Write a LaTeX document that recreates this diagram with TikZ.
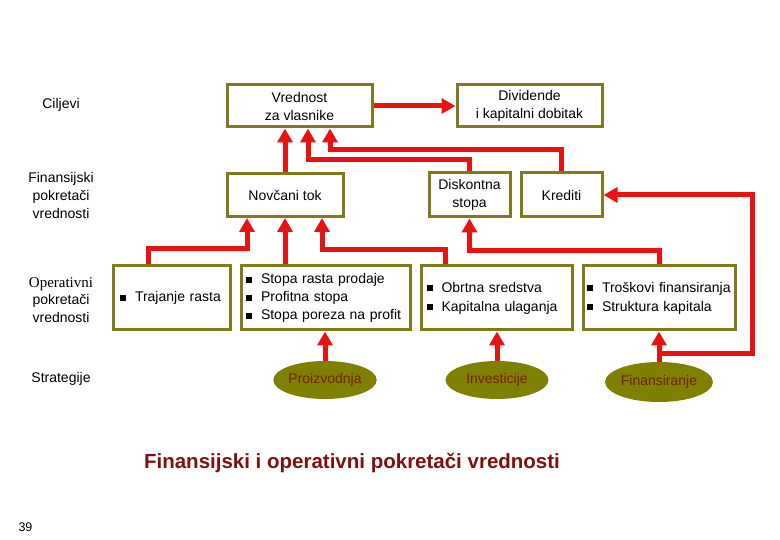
\documentclass[tikz,border=0pt]{standalone}
\usepackage{fontspec}
\setmainfont{Liberation Sans}
\newfontfamily\serifop{Liberation Serif}
\usetikzlibrary{arrows.meta,shapes.geometric}
\definecolor{olivebd}{RGB}{128,122,30}
\definecolor{olivefill}{RGB}{128,128,0}
\definecolor{arrred}{RGB}{232,18,18}
\definecolor{darkred}{RGB}{128,16,16}
\definecolor{ellitext}{RGB}{120,30,10}
\newcommand\sqb{\rule[1pt]{6pt}{6pt}\hspace{9pt}}
\begin{document}
\begin{tikzpicture}[x=1pt,y=-1pt,
  font=\fontsize{14}{18}\selectfont,
  box/.style={draw=olivebd, line width=3pt, fill=white, inner sep=0pt, align=center},
  lbox/.style={box, align=left, minimum height=64pt},
  ell/.style={ellipse, fill=olivefill, inner sep=0pt, minimum width=103pt, minimum height=38pt, text=ellitext},
  arr/.style={draw=arrred, line width=5pt, -{Triangle[width=15pt,length=14pt]}},
  lab/.style={align=center}]
\useasboundingbox (0,0) rectangle (780,540);
% left labels
\node[lab] (l1) at (61,105) {Ciljevi};
\node[lab] (l2) at (61,195) {Finansijski\\pokretači\\vrednosti};
\node[lab, font=\fontsize{14}{17.5}\selectfont] (l3) at (61,300) {{\serifop\fontsize{15}{17.5}\selectfont Operativni}\\pokretači\\vrednosti};
\node[lab] (l4) at (61,379) {Strategije};
% top boxes
\node[box, minimum width=145pt, minimum height=42pt] (v) at (299.5,106) {Vrednost\\za vlasnike};
\node[box, minimum width=145pt, minimum height=42pt] (d) at (529.5,106) {Dividende\\i kapitalni dobitak};
\node[box, minimum width=116pt, minimum height=43pt] (n) at (285,195) {Novčani tok};
\node[box, minimum width=81pt, minimum height=44pt] (ds) at (469.5,195) {Diskontna\\stopa};
\node[box, minimum width=81pt, minimum height=44pt] (kr) at (561.5,195) {Krediti};
% operational boxes
\node[lbox, text width=103pt, inner xsep=7pt] (tr) at (171.5,298) {\sqb Trajanje rasta};
\node[lbox, text width=159pt, inner xsep=5pt] (sp) at (325.5,298) {\sqb Stopa rasta prodaje\\\sqb Profitna stopa\\\sqb Stopa poreza na profit};
\node[lbox, text width=140pt, inner xsep=5.5pt, font=\fontsize{14}{19}\selectfont] (ob) at (496.5,298) {\sqb Obrtna sredstva\\\sqb Kapitalna ulaganja};
\node[lbox, text width=144pt, inner xsep=4pt, font=\fontsize{14}{19}\selectfont] (tf) at (659,298) {\sqb Troškovi finansiranja\\\sqb Struktura kapitala};
% strategies
\node[ell] (pr) at (325,380) {Proizvodnja};
\node[ell] (in) at (497,380) {Investicije};
\node[ell, minimum height=40pt] (fi) at (659,382) {Finansiranje};
% arrows
\draw[arr] (v.east) -- (d.west);
\draw[arr] (n.north) -- (n.north |- v.south);
\draw[arr] (ds.north) -- ++(0,-12) -| ([xshift=8.5pt]v.south);
\draw[arr] (kr.north) -- ++(0,-22) -| ([xshift=30.5pt]v.south);
\draw[arr] ([xshift=-23.5pt]tr.north) -- ++(0,-16) -| ([xshift=-38pt]n.south);
\draw[arr] (sp.north -| n.south) -- (n.south);
\draw[arr] ([xshift=-51.5pt]ob.north) -- ++(0,-15) -| ([xshift=37pt]n.south);
\draw[arr] (tf.north) -- ++(0,-14) -| (ds.south);
\draw[arr] (pr.north) -- (pr.north |- sp.south);
\draw[arr] (in.north) -- (in.north |- ob.south);
\draw[arr] (fi.north) -- (fi.north |- tf.south);
\coordinate (rc) at (752,195);
\draw[arr] ([yshift=8pt]fi.north) -| (rc) -- (kr.east);
% title
\node[font=\fontsize{20.5}{24}\selectfont\bfseries, text=darkred] (t) at (352,463) {Finansijski i operativni pokretači vrednosti};
\node[font=\fontsize{12.5}{14}\selectfont] (pg) at (25.5,527) {39};
\end{tikzpicture}
\end{document}
